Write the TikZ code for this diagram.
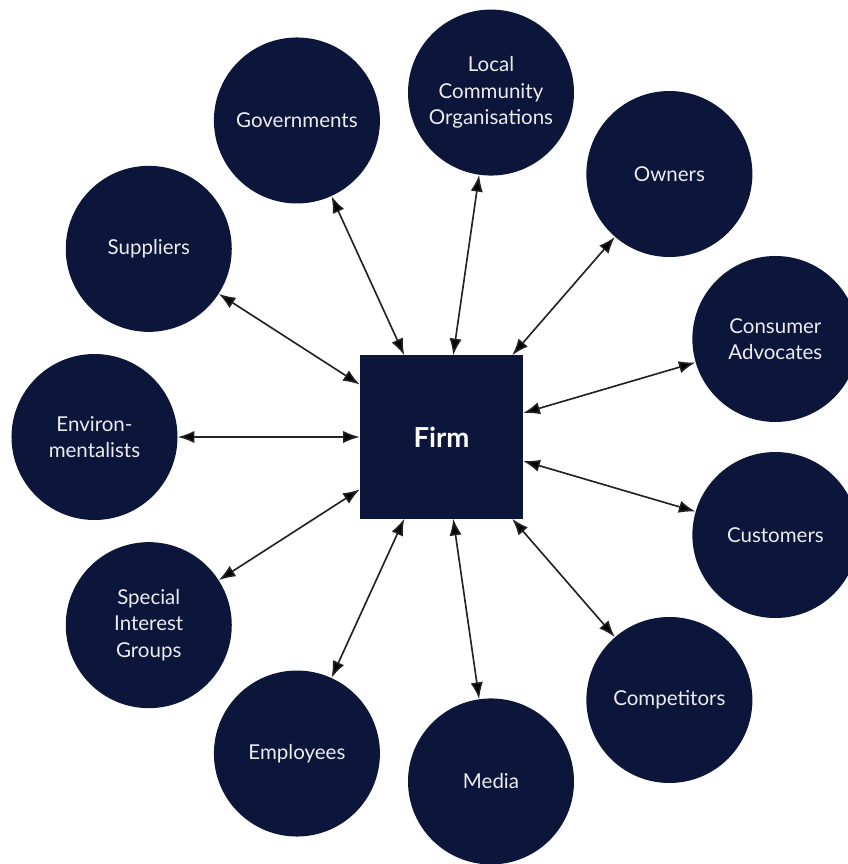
\documentclass[tikz,border=0pt]{standalone}
\usepackage{fontspec}
\setmainfont{Lato}
\usetikzlibrary{arrows.meta}
\usepackage{xcolor}
\definecolor{navy}{RGB}{12,21,58}
\definecolor{arrowgray}{RGB}{34,34,34}

\begin{document}
\begin{tikzpicture}[x=0.03cm, y=0.03cm, >=stealth]
\tikzset{stake/.style={circle, fill=navy, text=white!92!navy, minimum size=4.98cm, inner sep=0pt, align=center, font=\fontsize{17.5}{22.5}\selectfont} }
\tikzset{firmbox/.style={rectangle, fill=navy, text=white, minimum size=4.89cm, inner sep=0pt, font=\fontsize{23.5}{28}\selectfont\bfseries} }
\tikzset{>={Latex[width=3.7mm,length=5mm]}}
\useasboundingbox (-441.5,-427) rectangle (406.5,437);
\node[firmbox] (f) at (0,0) {Firm};
\node[stake] (env) at (180:347) {Environ-\\mentalists};
\node[stake] (sup) at (147.27:348) {Suppliers};
\node[stake] (gov) at (114.55:348) {Governments};
\node[stake] (loc) at (81.82:348) {Local\\Community\\Organisations};
\node[stake] (own) at (49.09:348) {Owners};
\node[stake] (adv) at (16.36:348) {Consumer\\Advocates};
\node[stake] (cus) at (-16.36:348) {Customers};
\node[stake] (com) at (-49.09:348) {Competitors};
\node[stake] (med) at (-81.82:348) {Media};
\node[stake] (emp) at (-114.55:348) {Employees};
\node[stake] (sig) at (-147.27:348) {Special\\Interest\\Groups};
\path[<->, draw=arrowgray, line width=1.4pt] (f) edge (env);
\path[<->, draw=arrowgray, line width=1.4pt] (f) edge (sup);
\path[<->, draw=arrowgray, line width=1.4pt] (f) edge (gov);
\path[<->, draw=arrowgray, line width=1.4pt] (f) edge (loc);
\path[<->, draw=arrowgray, line width=1.4pt] (f) edge (own);
\path[<->, draw=arrowgray, line width=1.4pt] (f) edge (adv);
\path[<->, draw=arrowgray, line width=1.4pt] (f) edge (cus);
\path[<->, draw=arrowgray, line width=1.4pt] (f) edge (com);
\path[<->, draw=arrowgray, line width=1.4pt] (f) edge (med);
\path[<->, draw=arrowgray, line width=1.4pt] (f) edge (emp);
\path[<->, draw=arrowgray, line width=1.4pt] (f) edge (sig);
\end{tikzpicture}
\end{document}
